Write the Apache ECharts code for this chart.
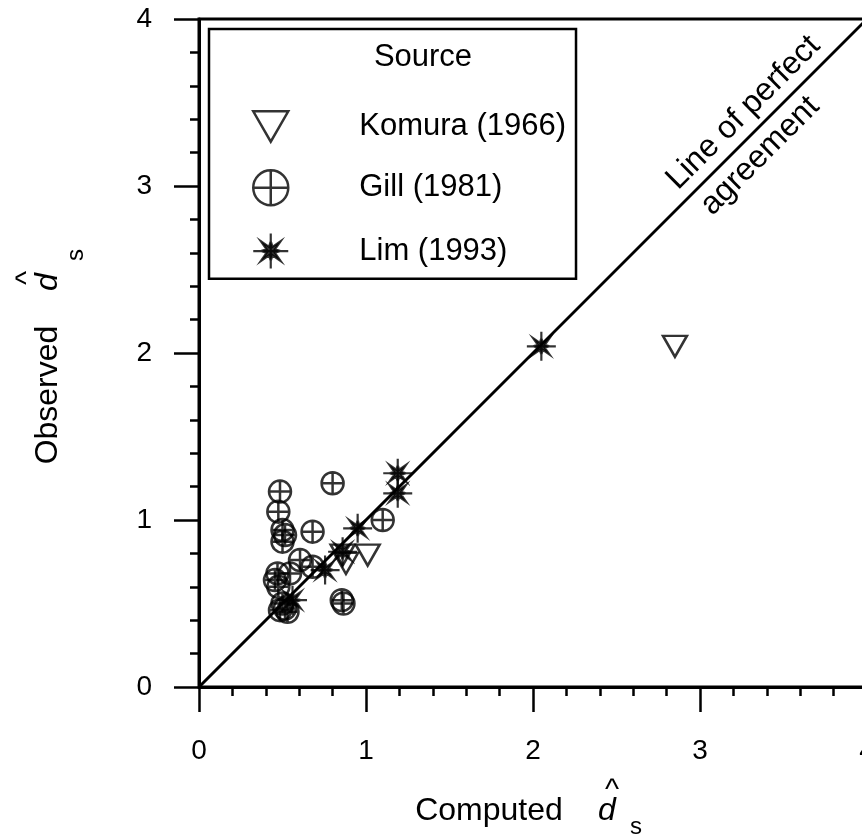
<!DOCTYPE html>
<html>
<head>
<meta charset="utf-8">
<script src="https://cdn.jsdelivr.net/npm/echarts@6/dist/echarts.min.js"></script>
<style>
  html, body { margin: 0; padding: 0; background: #fff; }
  #main { width: 862px; height: 836px; }
</style>
</head>
<body>
<div id="main"></div>
<script>
"use strict";
// values: [computed, observed]
const komura = [[2.85, 2.04], [1.01, 0.79], [0.88, 0.74], [0.86, 0.79]];
const gill = [
  [0.485, 1.17], [0.475, 1.05], [0.5, 0.94], [0.515, 0.91], [0.5, 0.87],
  [0.68, 0.93], [0.8, 1.22], [1.1, 1.0], [0.605, 0.76], [0.68, 0.72],
  [0.545, 0.68], [0.47, 0.68], [0.455, 0.64], [0.475, 0.6], [0.5, 0.5],
  [0.515, 0.47], [0.485, 0.46], [0.53, 0.45], [0.855, 0.52], [0.865, 0.5]
];
const lim = [
  [2.05, 2.04], [1.19, 1.28], [1.19, 1.16], [0.95, 0.95],
  [0.86, 0.81], [0.755, 0.7], [0.56, 0.52]
];
const perfect = [[0, 0], [4, 4]];
const sourceNames = ["Komura (1966)", "Gill (1981)", "Lim (1993)"];
const axisMin = 0, axisMax = 4, axisStep = 1;

const FONT = "Liberation Sans, Arial, sans-serif";
const triPath = "path://M0 0 L100 0 L50 87 Z";
const circPlusPath = "path://M2 50 A48 48 0 1 1 98 50 A48 48 0 1 1 2 50 Z M50 2 L50 98 M2 50 L98 50";
const starPath = "path://M50 0 L50 100 M0 50 L100 50 M78 50 L62 45 L78.3 21.7 L55 38 L50 22 L45 38 L21.7 21.7 L38 45 L22 50 L38 55 L21.7 78.3 L45 62 L50 78 L55 62 L78.3 78.3 L62 55 Z";

const hollow = { color: "transparent", borderColor: "#000", borderWidth: 2.5 };
const filled = { color: "#000", borderColor: "#000", borderWidth: 2.2 };

function axisCommon(margin) {
  return {
    type: "value",
    min: axisMin,
    max: axisMax,
    interval: axisStep,
    axisLine: { show: true, onZero: false, lineStyle: { color: "#000", width: 3 } },
    axisTick: { show: true, inside: false, length: 25, lineStyle: { color: "#000", width: 2.5 } },
    minorTick: { show: true, splitNumber: 5, length: 9, lineStyle: { color: "#000", width: 2.5 } },
    axisLabel: { color: "#000", fontSize: 28, fontFamily: FONT, margin: margin, showMaxLabel: true },
    splitLine: { show: false },
  };
}

var myChart = echarts.init(document.getElementById("main"));
myChart.setOption({
  backgroundColor: "#fff",
  animation: false,
  grid: {
    left: 199, top: 19, width: 668, height: 668,
    outerBoundsMode: "none",
    containLabel: false,
    show: true, borderColor: "#000", borderWidth: 3, backgroundColor: "transparent",
  },
  xAxis: axisCommon(50),
  yAxis: axisCommon(47),
  legend: {
    orient: "vertical",
    left: 209,
    top: 29,
    padding: [81, 10, 9, 43],
    borderColor: "#000",
    borderWidth: 2.5,
    itemWidth: 35,
    itemHeight: 35,
    itemGap: 26,
    textStyle: { color: "#000", fontSize: 31, fontFamily: FONT, padding: [0, 0, 0, 66] },
    data: [
      { name: sourceNames[0], icon: triPath, itemStyle: hollow },
      { name: sourceNames[1], icon: circPlusPath, itemStyle: hollow },
      { name: sourceNames[2], icon: starPath, itemStyle: filled },
    ],
  },
  series: [
    {
      name: "perfect",
      type: "line",
      data: perfect,
      symbol: "none",
      silent: true,
      lineStyle: { color: "#000", width: 3 },
      z: 1,
    },
    {
      name: sourceNames[0],
      type: "scatter",
      symbol: triPath,
      symbolSize: [24, 21],
      itemStyle: hollow,
      data: komura,
      z: 3,
    },
    {
      name: sourceNames[1],
      type: "scatter",
      symbol: circPlusPath,
      symbolSize: 22,
      itemStyle: hollow,
      data: gill,
      z: 3,
    },
    {
      name: sourceNames[2],
      type: "scatter",
      symbol: starPath,
      symbolSize: 29,
      itemStyle: filled,
      data: lim,
      z: 4,
    },
  ],
});

// annotation along the 1:1 line, placed through the axes
const upper = myChart.convertToPixel({ gridIndex: 0 }, [3.35, 3.35]);
const lower = myChart.convertToPixel({ gridIndex: 0 }, [3.27, 3.27]);
const off = 15;
const txt = (text, x, y, size, extra) =>
  Object.assign({
    type: "text", x: x, y: y,
    style: { text: text, fontSize: size, fontFamily: FONT, fill: "#000", align: "center", verticalAlign: "middle" },
  }, extra || {});

myChart.setOption({
  graphic: [
    txt("Source", 423, 57, 31),
    txt("Line of perfect", upper[0] - off, upper[1] - off, 32, { rotation: Math.PI / 4 }),
    txt("agreement", lower[0] + off, lower[1] + off, 32, { rotation: Math.PI / 4 }),
    // x axis title
    txt("Computed", 489, 811, 32),
    { type: "text", x: 607, y: 811, style: { text: "d", fontSize: 32, fontStyle: "italic", fontFamily: FONT, fill: "#000", align: "center", verticalAlign: "middle" } },
    txt("^", 612, 791, 30),
    txt("s", 636, 827, 24),
    // y axis title
    txt("Observed", 48, 395, 32, { rotation: Math.PI / 2 }),
    { type: "text", x: 48, y: 282, rotation: Math.PI / 2, style: { text: "d", fontSize: 32, fontStyle: "italic", fontFamily: FONT, fill: "#000", align: "center", verticalAlign: "middle" } },
    txt("^", 28, 278, 30, { rotation: Math.PI / 2 }),
    txt("s", 76, 255, 24, { rotation: Math.PI / 2 }),
  ],
});
</script>
</body>
</html>
